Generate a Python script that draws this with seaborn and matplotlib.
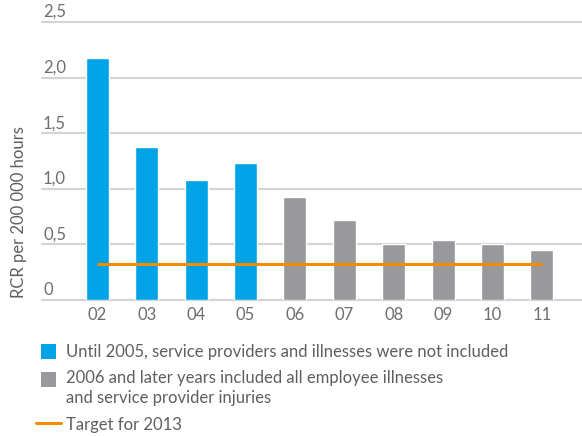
import matplotlib
matplotlib.use("Agg")
import matplotlib.pyplot as plt
import matplotlib.transforms as mtransforms
from matplotlib.patches import Patch, Rectangle
from matplotlib.lines import Line2D
from matplotlib.legend_handler import HandlerPatch
import seaborn as sns
import pandas as pd

# Recordable case rate by year
years = ["02", "03", "04", "05", "06", "07", "08", "09", "10", "11"]
rcr = [2.18, 1.38, 1.08, 1.23, 0.93, 0.72, 0.50, 0.54, 0.50, 0.45]
periods = ["old", "old", "old", "old", "new", "new", "new", "new", "new", "new"]
target_2013 = 0.32

y_ticks = [0, 0.5, 1.0, 1.5, 2.0, 2.5]
y_tick_labels = ["0", "0,5", "1,0", "1,5", "2,0", "2,5"]

legend_labels = [
    "Until 2005, service providers and illnesses were not included",
    "2006 and later years included all employee illnesses\nand service provider injuries",
    "Target for 2013",
]

BLUE = "#00a3e6"
GREY = "#99989c"
ORANGE = "#f28c00"
TEXT = "#5f5f5f"
TICK = "#6e6e6e"
GRID = "#d4d4d4"
FS = 12

sns.set_theme(style="white")
plt.rcParams["font.family"] = ["Lato", "DejaVu Sans"]

df = pd.DataFrame({"year": years, "rcr": rcr, "period": periods})

fig = plt.figure(figsize=(5.82, 4.36), dpi=100)
ax = fig.add_axes([42 / 582, 1 - 300 / 436, 540 / 582, 278 / 436])

sns.barplot(data=df, x="year", y="rcr", hue="period", order=years,
            palette={"old": BLUE, "new": GREY}, dodge=False, width=0.466,
            saturation=1, legend=False, ax=ax, zorder=3)

# target line spanning first to last bar
ax.hlines(target_2013, 0, len(years) - 1, color=ORANGE, lw=2.2, zorder=4)

ax.set_xlim(-1.12, 9.81)
ax.set_ylim(0, 2.5)

# horizontal guides with labels sitting above them
for v in y_ticks:
    ax.axhline(v, color=GRID, lw=1.6, zorder=1, clip_on=False)
ax.set_yticks([])
trans = mtransforms.blended_transform_factory(ax.transAxes, ax.transData)
off = mtransforms.ScaledTranslation(0, 2 / 100, fig.dpi_scale_trans)
for v, lab in zip(y_ticks, y_tick_labels):
    ax.text(0.002, v, lab, transform=trans + off, ha="left", va="bottom",
            fontsize=FS, color=TICK)

for s in ax.spines.values():
    s.set_visible(False)
ax.tick_params(axis="x", length=0, pad=5, labelsize=FS, labelcolor=TICK)
ax.set_xlabel("")
ax.set_ylabel("")

fig.text(19 / 582, 1 - 212 / 436, "RCR per 200 000 hours", rotation=90,
         ha="center", va="center", fontsize=FS, color=TEXT)


class SquareHandler(HandlerPatch):
    """Square swatch aligned with the first line of its label."""

    def __init__(self, lift=0.0, side=10.5):
        super().__init__()
        self.lift = lift
        self.side = side

    def create_artists(self, legend, orig_handle, xdescent, ydescent,
                       width, height, fontsize, trans):
        x0 = (width - self.side) / 2 - xdescent
        y0 = (height - self.side) / 2 - ydescent + self.lift
        r = Rectangle((x0, y0), self.side, self.side,
                      facecolor=orig_handle.get_facecolor(),
                      edgecolor="none", transform=trans)
        return [r]


h_old = Patch(facecolor=BLUE)
h_new = Patch(facecolor=GREY)
h_target = Line2D([], [], color=ORANGE, lw=2.2)
leg = fig.legend([h_old, h_new, h_target], legend_labels, loc="upper left",
                 bbox_to_anchor=(36 / 582, 1 - 344 / 436), frameon=False,
                 fontsize=FS, labelcolor=TEXT, handlelength=1.5,
                 handleheight=0.9, handletextpad=0.3, labelspacing=0.62,
                 borderaxespad=0, borderpad=0,
                 handler_map={h_old: SquareHandler(),
                              h_new: SquareHandler(lift=6.8)})
for t in leg.get_texts():
    t.set_linespacing(1.3)

fig.savefig("out.png", dpi=100)
